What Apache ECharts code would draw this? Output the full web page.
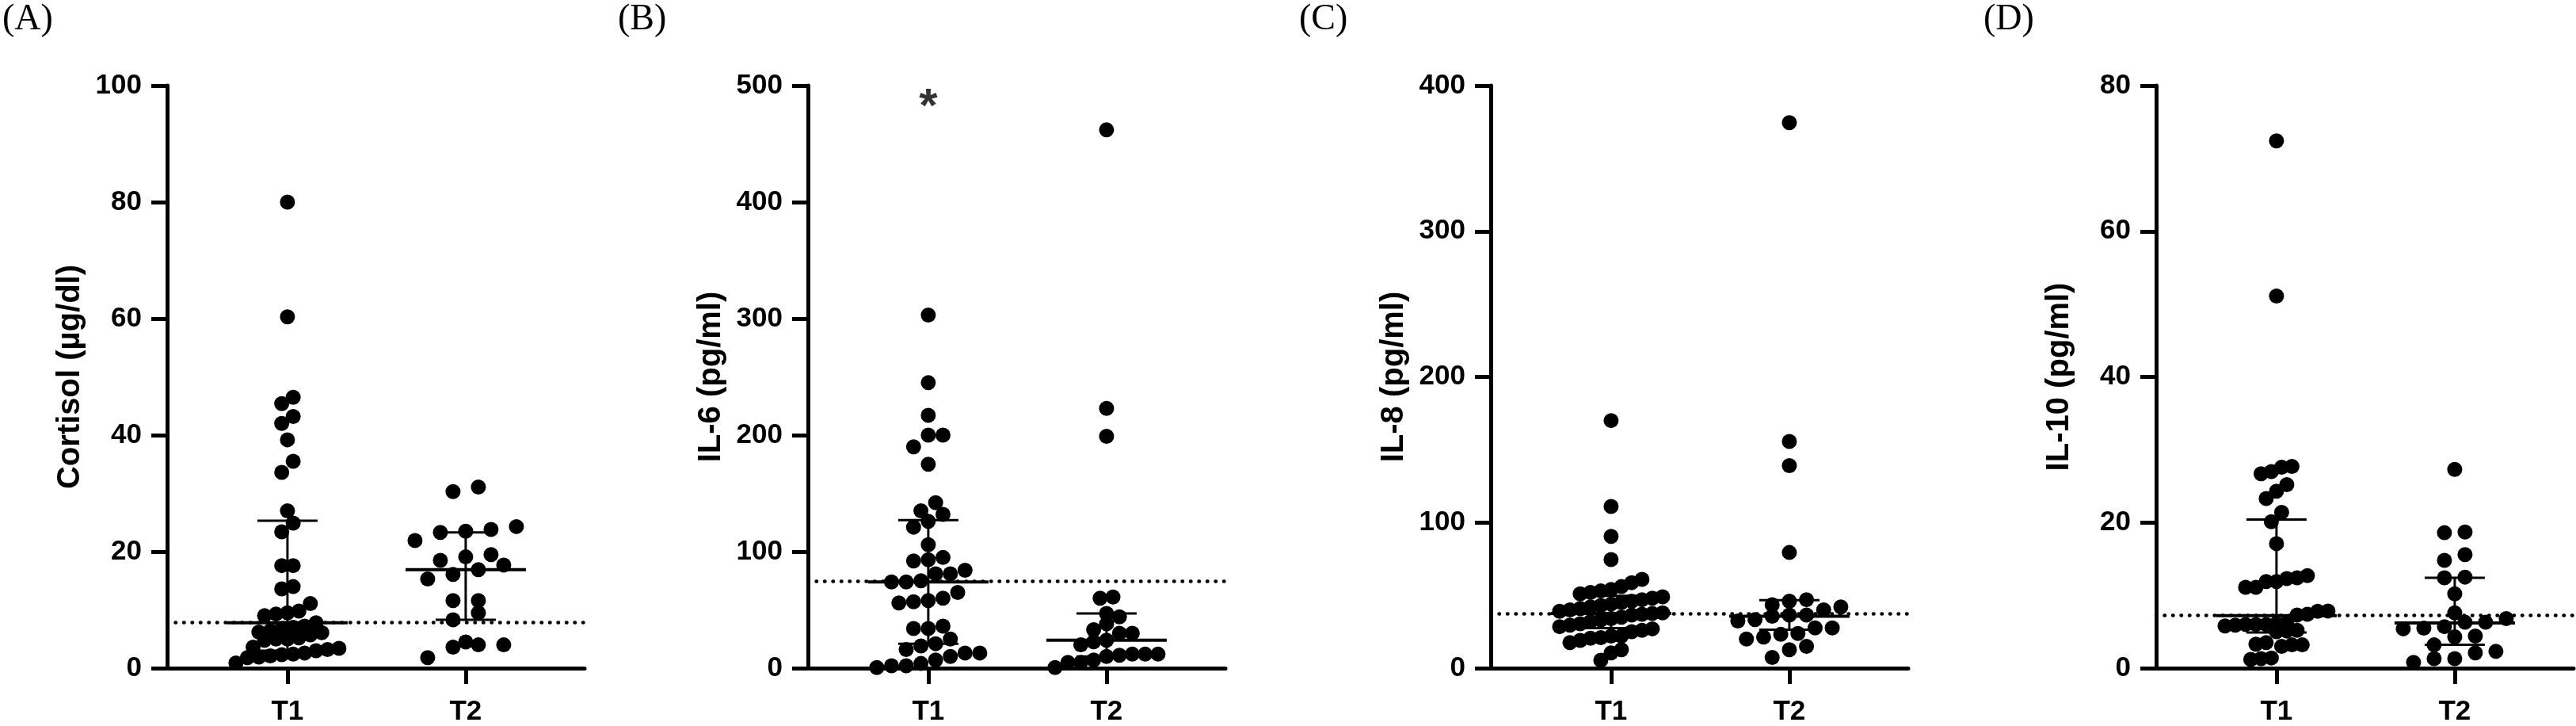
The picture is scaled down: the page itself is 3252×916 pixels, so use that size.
<!DOCTYPE html>
<html><head><meta charset="utf-8">
<script src="https://cdn.jsdelivr.net/npm/echarts@6/dist/echarts.min.js"></script>
<style>html,body{margin:0;padding:0;background:#fff}#c{width:3252px;height:916px}</style>
</head><body><div id="c"></div>
<script>
// ---------- data ----------
const categories = ['T1', 'T2'];
const panelLabels = ['(A)', '(B)', '(C)', '(D)'];
const axisTitles = ['Cortisol (µg/dl)', 'IL-6 (pg/ml)', 'IL-8 (pg/ml)', 'IL-10 (pg/ml)'];
const yMax = [100, 500, 400, 80];
const yStep = [20, 100, 100, 20];

const cortisolT1 = [80, 60.3, 46.5, 45.4, 43.2, 42, 39.2, 35.5, 33.6, 27, 24.9, 23.4, 17.6, 17.6, 14, 13.6, 11.1,
  9.8, 9.5, 9.3, 9.0, 7.8, 7.2, 7.0, 6.8, 6.4, 6.2, 6.1, 5.7, 5.2, 5.0, 5.0, 4.8, 3.6, 3.4, 3.2, 3.0, 2.6, 2.4, 2.3, 2.1, 1.9, 1.8, 0.9];
const cortisolT2 = [31.1, 30.3, 24.3, 23.8, 23.5, 23.3, 21.9, 19.5, 19.1, 18.5, 17.7, 16.9, 16.1, 15.3, 11.6, 11.6, 9.5, 8.3, 4.5, 4.0, 4.0, 3.6, 1.8];

const il6T1 = [303, 245, 217, 200, 200, 190, 175, 142, 135, 132, 126, 121, 106, 95, 93, 92, 84, 81, 81, 75, 74, 74,
  65, 60, 58, 57, 56, 36, 34, 34, 25, 21, 19, 16, 13, 13, 10, 7, 4, 2, 2, 0.5];
const il6T2 = [462, 223, 199, 61, 60, 47, 44, 38, 33, 30, 30, 24, 22.6, 20, 12, 12, 12, 11, 10, 7, 5, 5, 0.5];

const il8T1 = [170, 111, 90.5, 74.6, 61, 58.7, 56, 54, 53, 52, 51, 49, 48, 47, 46, 45, 44, 43, 42, 41, 40, 39, 38,
  37.5, 37, 36.5, 35, 34, 33, 32, 30.5, 29.5, 28.5, 27, 26, 25, 22, 22, 21, 20.5, 19, 17.5, 12.7, 10.5, 5.4];
const il8T2 = [374.6, 155.6, 139, 79.4, 47, 46, 43.5, 42, 40, 36.5, 36.5, 35.6, 33.3, 32.4, 27.6, 27.6, 23.8, 23.2, 21.3, 20, 15, 12.7, 7.3];

const il10T1 = [72.4, 51.1, 27.7, 27.6, 27.0, 26.7, 25.2, 24.3, 23.3, 21.4, 20.1, 17.1, 12.7, 12.4, 12.3, 11.9, 11.9, 11.1, 11.1,
  7.85, 7.8, 7.4, 7.3, 6.2, 6.1, 6.0, 6.0, 6.0, 5.9, 5.8, 5.2, 5.1, 5.0, 3.5, 3.3, 3.2, 3.2, 3.0, 1.4, 1.3, 1.2];
const il10T2 = [27.3, 18.7, 18.6, 15.6, 14.8, 12.5, 12.4, 10.2, 7.6, 6.8, 6.3, 6.3, 5.7, 5.5, 5.4, 4.4, 4.3, 3.2, 2.3, 2.1, 1.3, 1.3, 0.8];

// median, lower quartile, upper quartile for [T1, T2]
const cortisolStats = [[7.8, 3.0, 25.3], [16.9, 8.3, 23.3]];
const il6Stats = [[74, 21, 127], [24, 10, 47]];
const il8Stats = [[37.5, 27.5, 49.6], [35.6, 26.4, 46.7]];
const il10Stats = [[7.2, 4.9, 20.4], [6.2, 3.2, 12.4]];

const referenceLines = [7.8, 75, 37.5, 7.3];
const sigText = ['', '*', '', ''];
const sigValue = [null, 490, null, null];

// ---------- layout ----------
const groups = [[cortisolT1, cortisolT2], [il6T1, il6T2], [il8T1, il8T2], [il10T1, il10T2]];
const stats = [cortisolStats, il6Stats, il8Stats, il10Stats];
const GRID_LEFTS = [211, 1020, 1882, 2722];
const LABEL_X = [3, 780, 1640, 2504];
const GRID_TOP = 108, GRID_H = 737, GRID_W = 527;
const XMIN = 0.325, XMAX = 2.667;
const DOT = 19, MAX_W = 130, MAX_SP = 32;
const FONT = 'Liberation Sans, Arial, sans-serif';

function swarm(values, cat, ymax) {
  const pxY = GRID_H / ymax;
  const pxX = GRID_W / (XMAX - XMIN);
  const sorted = values.slice().sort((a, b) => a - b);
  const rows = [];
  let cur = [];
  for (const v of sorted) {
    if (cur.length && (v - cur[0]) * pxY >= DOT) { rows.push(cur); cur = []; }
    cur.push(v);
  }
  if (cur.length) rows.push(cur);
  const kmax = Math.max(...rows.map(r => r.length));
  const sp = kmax > 1 ? Math.min(MAX_SP, MAX_W / (kmax - 1)) : 0;
  const pts = [];
  rows.forEach(r => {
    const k = r.length;
    r.forEach((v, i) => pts.push([cat + ((i - (k - 1) / 2) * sp) / pxX, v]));
  });
  return pts;
}

const grid = [], xAxis = [], yAxis = [], series = [], graphic = [];
for (let p = 0; p < 4; p++) {
  grid.push({ left: GRID_LEFTS[p], top: GRID_TOP, width: GRID_W, height: GRID_H });
  xAxis.push({
    gridIndex: p, type: 'value', min: XMIN, max: XMAX,
    axisLine: { show: true, onZero: false, lineStyle: { color: '#000', width: 5 } },
    axisTick: { show: true, customValues: [1, 2], length: 20, lineStyle: { color: '#000', width: 5 } },
    axisLabel: { show: true, customValues: [1, 2], formatter: v => categories[Math.round(v) - 1] || '',
      fontSize: 35, fontWeight: 'bold', color: '#000', fontFamily: FONT, margin: 38 },
    splitLine: { show: false }
  });
  yAxis.push({
    gridIndex: p, type: 'value', min: 0, max: yMax[p], interval: yStep[p],
    name: axisTitles[p], nameLocation: 'middle', nameGap: 102, nameRotate: 90,
    nameTextStyle: { fontSize: 40, fontWeight: 'bold', color: '#000', fontFamily: FONT },
    axisLine: { show: true, onZero: false, lineStyle: { color: '#000', width: 5 } },
    axisTick: { show: true, length: 20, lineStyle: { color: '#000', width: 5 } },
    axisLabel: { fontSize: 35, fontWeight: 'bold', color: '#000', fontFamily: FONT, margin: 32 },
    splitLine: { show: false }
  });
  // error bars (median + interquartile range)
  series.push({
    type: 'custom', xAxisIndex: p, yAxisIndex: p, z: 2,
    data: stats[p].map((s, i) => [i + 1, s[0], s[1], s[2]]),
    encode: { x: 0, y: [1, 2, 3] },
    renderItem: (params, api) => {
      const x = api.value(0);
      const pm = api.coord([x, api.value(1)]);
      const p1 = api.coord([x, api.value(2)]);
      const p3 = api.coord([x, api.value(3)]);
      const st = w => ({ stroke: '#000', lineWidth: w });
      return { type: 'group', children: [
        { type: 'line', shape: { x1: pm[0], y1: p1[1], x2: pm[0], y2: p3[1] }, style: st(3) },
        { type: 'line', shape: { x1: pm[0] - 38, y1: p1[1], x2: pm[0] + 38, y2: p1[1] }, style: st(3) },
        { type: 'line', shape: { x1: pm[0] - 38, y1: p3[1], x2: pm[0] + 38, y2: p3[1] }, style: st(3) },
        { type: 'line', shape: { x1: pm[0] - 76, y1: pm[1], x2: pm[0] + 76, y2: pm[1] }, style: st(4) }
      ]};
    }
  });
  const pts = swarm(groups[p][0], 1, yMax[p]).concat(swarm(groups[p][1], 2, yMax[p]));
  series.push({
    type: 'scatter', xAxisIndex: p, yAxisIndex: p, z: 3,
    symbol: 'circle', symbolSize: DOT, itemStyle: { color: '#000', opacity: 1 },
    data: pts, silent: true,
    markLine: {
      silent: true, symbol: 'none', label: { show: false },
      lineStyle: { color: '#000', width: 4.5, type: [0.5, 10], cap: 'round', opacity: 1 },
      data: [{ yAxis: referenceLines[p] }]
    }
  });
  if (sigText[p]) {
    series.push({
      type: 'scatter', xAxisIndex: p, yAxisIndex: p, z: 4,
      symbolSize: 1, itemStyle: { color: 'rgba(0,0,0,0)' },
      data: [[1, sigValue[p]]],
      label: { show: true, formatter: sigText[p], position: 'inside', offset: [0, 14],
        fontSize: 60, fontWeight: 'bold', color: '#000', fontFamily: FONT }
    });
  }
  graphic.push({
    type: 'text', left: LABEL_X[p], top: 2,
    style: { text: panelLabels[p], fontSize: 46, fontFamily: 'Liberation Serif, Times New Roman, serif', fill: '#000' }
  });
}

const chart = echarts.init(document.getElementById('c'), null, { renderer: 'canvas' });
chart.setOption({ backgroundColor: '#fff', animation: false, grid, xAxis, yAxis, series, graphic });
</script></body></html>
